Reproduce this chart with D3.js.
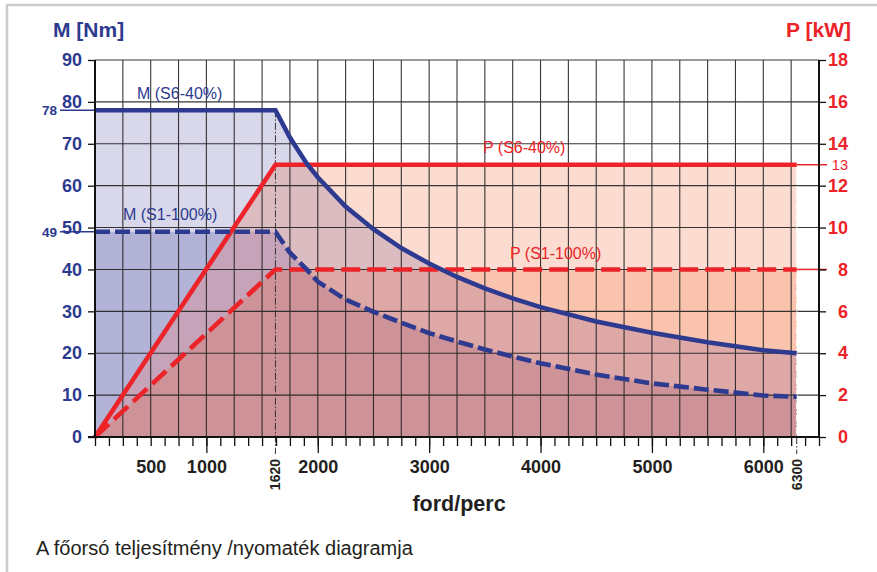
<!DOCTYPE html>
<html><head><meta charset="utf-8">
<script src="https://cdn.jsdelivr.net/npm/d3@7/dist/d3.min.js"></script>
<style>
html,body{margin:0;padding:0;background:#fff;}
svg{display:block;font-family:"Liberation Sans",Arial,Helvetica,sans-serif;}
</style></head>
<body>
<script>
// ---- data ----
const rpmM = [0, 1620, 1750, 1900, 2000, 2250, 2500, 2750, 3000, 3250, 3500, 3750, 4000, 4500, 5000, 5500, 6000, 6300];
const torqueS6 = [78, 78, 71.5, 65.3, 62.0, 55.0, 49.6, 45.1, 41.4, 38.2, 35.5, 33.1, 31.0, 27.6, 24.9, 22.6, 20.7, 20.0];
const torqueS1 = [49, 49, 44.0, 40.0, 37.1, 32.8, 29.9, 27.3, 24.8, 22.8, 20.9, 19.2, 17.6, 14.9, 12.8, 11.3, 9.9, 9.6];
const rpmP = [0, 1620, 6300];
const powerS6 = [0, 13, 13];
const powerS1 = [0, 8, 8];
const torqueTicks = [0, 10, 20, 30, 40, 50, 60, 70, 80, 90];
const powerTicks = [0, 2, 4, 6, 8, 10, 12, 14, 16, 18];
const rpmLabels = [500, 1000, 2000, 3000, 4000, 5000, 6000];
const rpmSpecial = [1620, 6300];
const torqueMarks = [78, 49];
const powerMarks = [13];

const W = 877, H = 572;
const blue = "#2d3a8f", red = "#ec2329";
const svg = d3.select("body").append("svg").attr("width", W).attr("height", H);

// frame
svg.append("path").attr("d", "M7,572 V5 H877").attr("fill", "none").attr("stroke", "#cbcbcb").attr("stroke-width", 2.5);

const x = d3.scaleLinear().domain([0, 6500]).range([95, 819]);
const yM = d3.scaleLinear().domain([0, 90]).range([437, 60]);
const yP = d3.scaleLinear().domain([0, 18]).range([437, 60]);

const mS6 = rpmM.map((r, i) => [r, torqueS6[i]]);
const mS1 = rpmM.map((r, i) => [r, torqueS1[i]]);
const pS6 = rpmP.map((r, i) => [r, powerS6[i]]);
const pS1 = rpmP.map((r, i) => [r, powerS1[i]]);

const areaM = d3.area().x(d => x(d[0])).y0(yM(0)).y1(d => yM(d[1]));
const areaP = d3.area().x(d => x(d[0])).y0(yP(0)).y1(d => yP(d[1]));
const lineM = d3.line().x(d => x(d[0])).y(d => yM(d[1]));
const lineP = d3.line().x(d => x(d[0])).y(d => yP(d[1]));

const defs = svg.append("defs");
defs.append("clipPath").attr("id", "cM6").append("path").attr("d", areaM(mS6));
defs.append("clipPath").attr("id", "cM1").append("path").attr("d", areaM(mS1));

const fills = svg.append("g");
fills.append("path").attr("d", areaM(mS6)).attr("fill", "#d9d7ea");
fills.append("path").attr("d", areaM(mS1)).attr("fill", "#b2b3d7");
fills.append("path").attr("d", areaP(pS6)).attr("fill", "#fcdcd0");
fills.append("path").attr("d", areaP(pS1)).attr("fill", "#f9c3ae");
fills.append("path").attr("d", areaP(pS6)).attr("fill", "#dbbcc1").attr("clip-path", "url(#cM6)");
fills.append("path").attr("d", areaP(pS1)).attr("fill", "#dea8a6").attr("clip-path", "url(#cM6)");
fills.append("path").attr("d", areaP(pS6)).attr("fill", "#c6a3b8").attr("clip-path", "url(#cM1)");
fills.append("path").attr("d", areaP(pS1)).attr("fill", "#cd9399").attr("clip-path", "url(#cM1)");

// grid
const grid = svg.append("g").attr("stroke", "#222").attr("stroke-width", 1.1).attr("opacity", 0.9);
d3.range(250, 6500, 250).forEach(v => {
  grid.append("line").attr("x1", x(v)).attr("x2", x(v)).attr("y1", yM(90)).attr("y2", yM(0));
});
torqueTicks.slice(1).forEach(v => {
  grid.append("line").attr("x1", x(0)).attr("x2", x(6500)).attr("y1", yM(v)).attr("y2", yM(v));
});

// special verticals
svg.append("line").attr("x1", x(1620)).attr("x2", x(1620)).attr("y1", yM(78)).attr("y2", yM(0) + 17)
  .attr("stroke", "#333").attr("stroke-width", 1).attr("stroke-dasharray", "7,2,1.5,2");
svg.append("line").attr("x1", x(6300)).attr("x2", x(6300)).attr("y1", yP(13)).attr("y2", yM(0))
  .attr("stroke", "#fff").attr("stroke-width", 1.2).attr("stroke-dasharray", "7,2,1.5,2");
svg.append("line").attr("x1", x(6300)).attr("x2", x(6300)).attr("y1", yM(0)).attr("y2", yM(0) + 17)
  .attr("stroke", "#333").attr("stroke-width", 1).attr("stroke-dasharray", "7,2,1.5,2");

// reference marks
torqueMarks.forEach(v => {
  svg.append("line").attr("x1", 60).attr("x2", x(0)).attr("y1", yM(v)).attr("y2", yM(v))
    .attr("stroke", blue).attr("stroke-width", 1.5);
  svg.append("text").attr("x", 57).attr("y", yM(v)).attr("dy", "0.36em").attr("text-anchor", "end")
    .attr("fill", blue).attr("font-size", 13.5).attr("font-weight", "bold").text(v);
});
[13, 8].forEach(v => {
  svg.append("line").attr("x1", x(6300)).attr("x2", 827).attr("y1", yP(v)).attr("y2", yP(v))
    .attr("stroke", red).attr("stroke-width", 1.5);
});
powerMarks.forEach(v => {
  svg.append("text").attr("x", 848).attr("y", yP(v)).attr("dy", "0.36em").attr("text-anchor", "end")
    .attr("fill", red).attr("font-size", 14.5).text(v);
});

// curves
svg.append("path").attr("d", lineP(pS1)).attr("fill", "none").attr("stroke", red).attr("stroke-width", 4.6)
  .attr("stroke-dasharray", "19,7");
svg.append("path").attr("d", lineP(pS6)).attr("fill", "none").attr("stroke", red).attr("stroke-width", 4.6);
svg.append("path").attr("d", lineM(mS1)).attr("fill", "none").attr("stroke", blue).attr("stroke-width", 4.6)
  .attr("stroke-dasharray", "15,5");
svg.append("path").attr("d", lineM(mS6)).attr("fill", "none").attr("stroke", blue).attr("stroke-width", 4.6);

// axes
const fmt = d3.format("d");
const axL = svg.append("g").attr("transform", `translate(${x(0)},0)`)
  .call(d3.axisLeft(yM).tickValues(torqueTicks).tickFormat(fmt).tickSize(7).tickPadding(6));
const axR = svg.append("g").attr("transform", `translate(${x(6500)},0)`)
  .call(d3.axisRight(yP).tickValues(powerTicks).tickFormat(fmt).tickSize(7).tickPadding(0));
axR.selectAll("text").attr("text-anchor", "end").attr("x", 848 - x(6500));
const axBminor = svg.append("g").attr("transform", `translate(0,${yM(0)})`)
  .call(d3.axisBottom(x).tickValues(d3.range(0, 6501, 125)).tickSize(9).tickFormat(""));
const axBmajor = svg.append("g").attr("transform", `translate(0,${yM(0)})`)
  .call(d3.axisBottom(x).tickValues([1000, 2000, 3000, 4000, 5000, 6000]).tickSize(16).tickFormat(""));
const axBlab = svg.append("g").attr("transform", `translate(0,${yM(0)})`)
  .call(d3.axisBottom(x).tickValues(rpmLabels).tickFormat(fmt).tickSize(0).tickPadding(23));
[axL, axR, axBminor, axBmajor, axBlab].forEach(g => {
  g.select(".domain").remove();
  g.selectAll("line").attr("stroke", "#111").attr("stroke-width", 1.3);
  g.selectAll("text").attr("font-family", "Liberation Sans, Arial, sans-serif").attr("font-weight", "bold").attr("font-size", 18);
});
axL.selectAll("text").attr("fill", blue);
axR.selectAll("text").attr("fill", red);
axBlab.selectAll("text").attr("fill", "#231f20");
// axis lines
svg.append("line").attr("x1", x(0)).attr("x2", x(0)).attr("y1", yM(90)).attr("y2", yM(0)).attr("stroke", "#111").attr("stroke-width", 2);
svg.append("line").attr("x1", x(6500)).attr("x2", x(6500)).attr("y1", yM(90)).attr("y2", yM(0)).attr("stroke", "#111").attr("stroke-width", 2);
svg.append("line").attr("x1", x(0) - 7).attr("x2", x(6500)).attr("y1", yM(0)).attr("y2", yM(0)).attr("stroke", "#111").attr("stroke-width", 2);

// rotated special labels
rpmSpecial.forEach(v => {
  svg.append("text").attr("transform", `translate(${x(v) + 5},459) rotate(-90)`).attr("text-anchor", "end")
    .attr("font-size", 14).attr("font-weight", "bold").attr("fill", "#231f20").text(v);
});

// titles
svg.append("text").attr("x", 53).attr("y", 37).attr("fill", blue).attr("font-size", 21).attr("font-weight", "bold").text("M [Nm]");
svg.append("text").attr("x", 851).attr("y", 37).attr("text-anchor", "end").attr("fill", red).attr("font-size", 21).attr("font-weight", "bold").text("P [kW]");
svg.append("text").attr("x", 459).attr("y", 511).attr("text-anchor", "middle").attr("fill", "#231f20").attr("font-size", 21.5).attr("font-weight", "bold").text("ford/perc");

// series labels
const lab = (t, xx, yy, c) => svg.append("text").attr("x", xx).attr("y", yy).attr("fill", c).attr("font-size", 16).text(t);
lab("M (S6-40%)", 137, 99, blue);
lab("M (S1-100%)", 123, 220, blue);
lab("P (S6-40%)", 483, 153, red);
lab("P (S1-100%)", 510, 259, red);

// caption
svg.append("text").attr("x", 36).attr("y", 555).attr("fill", "#231f20").attr("font-size", 20).text("A főorsó teljesítmény /nyomaték diagramja");
</script>
</body></html>
